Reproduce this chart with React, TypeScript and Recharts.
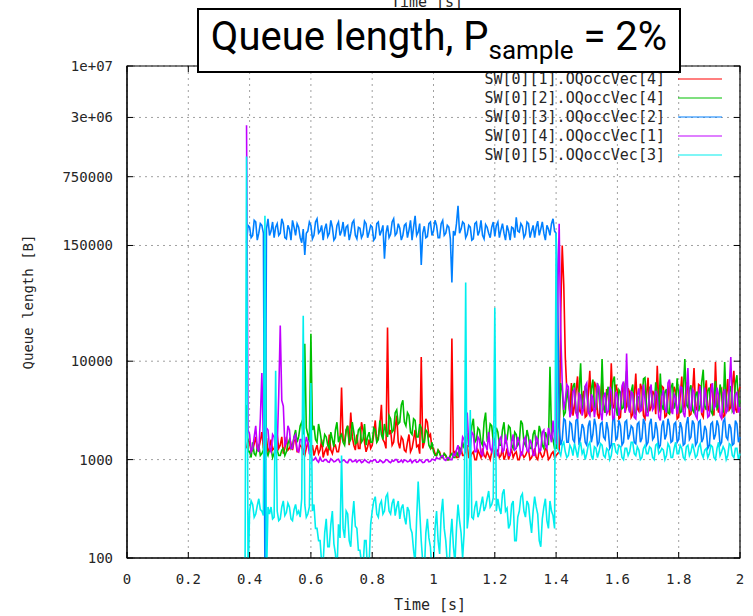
import { LineChart, Line, XAxis, YAxis, CartesianGrid, ReferenceArea } from "recharts";

// sample times [s]
const TIME = [
  0.385, 0.39, 0.395,
  0.4, 0.405, 0.41, 0.415, 0.42, 0.425, 0.43, 0.435, 0.44, 0.445,
  0.45, 0.455, 0.46, 0.465, 0.47, 0.475, 0.48, 0.485, 0.49, 0.495,
  0.5, 0.505, 0.51, 0.515, 0.52, 0.525, 0.53, 0.535, 0.54, 0.545,
  0.55, 0.555, 0.56, 0.565, 0.57, 0.575, 0.58, 0.585, 0.59, 0.595,
  0.6, 0.605, 0.61, 0.615, 0.62, 0.625, 0.63, 0.635, 0.64, 0.645,
  0.65, 0.655, 0.66, 0.665, 0.67, 0.675, 0.68, 0.685, 0.69, 0.695,
  0.7, 0.705, 0.71, 0.715, 0.72, 0.725, 0.73, 0.735, 0.74, 0.745,
  0.75, 0.755, 0.76, 0.765, 0.77, 0.775, 0.78, 0.785, 0.79, 0.795,
  0.8, 0.805, 0.81, 0.815, 0.82, 0.825, 0.83, 0.835, 0.84, 0.845,
  0.85, 0.855, 0.86, 0.865, 0.87, 0.875, 0.88, 0.885, 0.89, 0.895,
  0.9, 0.905, 0.91, 0.915, 0.92, 0.925, 0.93, 0.935, 0.94, 0.945,
  0.95, 0.955, 0.96, 0.965, 0.97, 0.975, 0.98, 0.985, 0.99, 0.995,
  1.0, 1.005, 1.01, 1.015, 1.02, 1.025, 1.03, 1.035, 1.04, 1.045,
  1.05, 1.055, 1.06, 1.065, 1.07, 1.075, 1.08, 1.085, 1.09, 1.095,
  1.1, 1.105, 1.11, 1.115, 1.12, 1.125, 1.13, 1.135, 1.14, 1.145,
  1.15, 1.155, 1.16, 1.165, 1.17, 1.175, 1.18, 1.185, 1.19, 1.195,
  1.2, 1.205, 1.21, 1.215, 1.22, 1.225, 1.23, 1.235, 1.24, 1.245,
  1.25, 1.255, 1.26, 1.265, 1.27, 1.275, 1.28, 1.285, 1.29, 1.295,
  1.3, 1.305, 1.31, 1.315, 1.32, 1.325, 1.33, 1.335, 1.34, 1.345,
  1.35, 1.355, 1.36, 1.365, 1.37, 1.375, 1.38, 1.385, 1.39, 1.395,
  1.4, 1.405, 1.41, 1.415, 1.42, 1.425, 1.43, 1.435, 1.44, 1.445,
  1.45, 1.455, 1.46, 1.465, 1.47, 1.475, 1.48, 1.485, 1.49, 1.495,
  1.5, 1.505, 1.51, 1.515, 1.52, 1.525, 1.53, 1.535, 1.54, 1.545,
  1.55, 1.555, 1.56, 1.565, 1.57, 1.575, 1.58, 1.585, 1.59, 1.595,
  1.6, 1.605, 1.61, 1.615, 1.62, 1.625, 1.63, 1.635, 1.64, 1.645,
  1.65, 1.655, 1.66, 1.665, 1.67, 1.675, 1.68, 1.685, 1.69, 1.695,
  1.7, 1.705, 1.71, 1.715, 1.72, 1.725, 1.73, 1.735, 1.74, 1.745,
  1.75, 1.755, 1.76, 1.765, 1.77, 1.775, 1.78, 1.785, 1.79, 1.795,
  1.8, 1.805, 1.81, 1.815, 1.82, 1.825, 1.83, 1.835, 1.84, 1.845,
  1.85, 1.855, 1.86, 1.865, 1.87, 1.875, 1.88, 1.885, 1.89, 1.895,
  1.9, 1.905, 1.91, 1.915, 1.92, 1.925, 1.93, 1.935, 1.94, 1.945,
  1.95, 1.955, 1.96, 1.965, 1.97, 1.975, 1.98, 1.985, 1.99, 1.995,
  2.0,
];

// SW[0][1].OQoccVec[4]
const SW1 = [
  null, 1300, 1600,
  1500, 1200, 1250, 1450, 1700, 1250, 1300, 1550, 1900, 1350,
  1400, 1650, 1200, 1300, 1600, 1250, 1300, 1500, 1800, 1300,
  1400, 1700, 1150, 1300, 1700, 1250, 1300, 1450, 1250, 1550,
  1600, 1200, 1200, 1400, 1350, 1150, 1100, 1300, 1500, 1250,
  1200, 1400, 1100, 1250, 1400, 1150, 1250, 1600, 1050, 1200,
  1300, 1100, 1800, 1250, 1150, 1350, 1400, 1200, 1200, 1500,
  5400, 1600, 1500, 2000, 2200, 1400, 3000, 1700, 1400, 1250,
  1800, 1300, 1300, 2400, 2000, 1500, 1200, 1350, 1600, 1300,
  1400, 1800, 2500, 1500, 1700, 2200, 3600, 1600, 1500, 1300,
  22000, 1800, 2000, 1400, 1500, 2100, 2800, 1500, 1300, 1700,
  1600, 1250, 1200, 1500, 1800, 1200, 1300, 1600, 2000, 1350,
  1400, 1150, 11000, 1300, 1500, 2600, 2400, 1700, 1800, 1300,
  1300, 1150, 1100, 1250, 1200, 1050, 1050, 1150, 1100, 1000,
  1000, 1100, 17000, 1150, 1200, 1050, 1050, 1200, 1300, 1100,
  1100, 1250, 1400, 1050, 1050, 1150, 1200, 1000, 1000, 1250,
  1150, 1050, 1300, 1100, 1050, 1200, 1100, 1000, 1200, 1350,
  1050, 1200, 1250, 1050, 1100, 1300, 1000, 1100, 1300, 1000,
  1150, 1250, 1050, 1150, 1200, 1000, 1000, 1200, 1150, 1050,
  1100, 1200, 1250, 1000, 1050, 1150, 1300, 1050, 1000, 1250,
  1150, 1050, 1100, 1300, 1250, 1000, 1050, 1150, 1200, 1050,
  1100, 1150, 1200, 30000, 150000, 60000, 11000, 5000, 4500, 3000,
  6000, 2800, 3500, 5000, 7000, 3200, 3000, 4200, 5000, 2700,
  2800, 4600, 8000, 3100, 3200, 6200, 5500, 2900, 2600, 4400,
  6500, 3300, 3000, 5200, 4500, 2800, 9500, 3600, 3300, 5800,
  5000, 2600, 2700, 4800, 6000, 3000, 3500, 5300, 4800, 2700,
  2900, 4400, 7500, 3300, 3100, 5900, 5200, 2800, 2600, 4500,
  6800, 3100, 3400, 5000, 4600, 2900, 9000, 3800, 3000, 5600,
  5400, 2700, 2800, 4300, 6200, 3100, 3300, 5500, 4900, 2600,
  2700, 4500, 7000, 3200, 3600, 6100, 5100, 2800, 2900, 4700,
  8500, 3400, 3200, 5800, 5600, 2900, 2700, 4600, 6400, 3100,
  3500, 5900, 4700, 2800, 9800, 3600, 3000, 5100, 5300, 2700,
  2800, 4400, 6600, 3200, 3400, 5700, 8000, 3300, 3000, 4900,
  5500,
];

// SW[0][2].OQoccVec[4]
const SW2 = [
  null, 3600, 1200,
  1200, 1050, 1500, 1150, 1100, 1300, 1400, 1100, 1150, 1250,
  39000, 1200, 1100, 1250, 1300, 1050, 1150, 1350, 1250, 1100,
  1100, 1250, 1300, 1100, 1200, 1450, 1600, 1300, 1400, 1700,
  2000, 1500, 1700, 2200, 2400, 1800, 15000, 2100, 1800, 1500,
  19000, 2000, 2200, 1600, 1500, 2300, 1900, 1500, 1400, 1800,
  1700, 1400, 1300, 1900, 1600, 1350, 2000, 2400, 1500, 1700,
  1800, 1500, 1400, 2000, 2200, 1500, 1600, 2400, 1900, 1450,
  1500, 2000, 2100, 1500, 1600, 2300, 1400, 1700, 1900, 1500,
  1500, 2100, 2000, 1500, 1600, 2500, 1800, 1600, 2300, 1900,
  1700, 2800, 2600, 1900, 2000, 3000, 3200, 2300, 2400, 3600,
  4000, 2400, 2200, 3000, 2800, 1900, 1800, 2600, 2500, 1700,
  1700, 2300, 2100, 1500, 1500, 2000, 1900, 1400, 1300, 1500,
  1200, 1100, 1100, 1250, 1150, 1050, 1050, 1150, 1100, 1000,
  1000, 1100, 1150, 1050, 1050, 1200, 1100, 1300, 1200, 1500,
  1300, 1700, 1800, 1400, 1500, 2200, 2600, 1500, 1600, 2100,
  2000, 1500, 1400, 2400, 3000, 1600, 1700, 2300, 2200, 1500,
  1500, 2100, 1900, 1400, 1400, 2000, 2400, 1500, 1600, 2200,
  2100, 1400, 1300, 1900, 1800, 1400, 1500, 2500, 2300, 1500,
  1400, 2000, 1700, 1300, 1300, 1800, 2000, 1400, 1500, 2200,
  1900, 1400, 1300, 1900, 1700, 1400, 8800, 1800, 1600, 1300,
  1300, 2000, 2500, 6000, 5000, 2800, 3000, 5200, 4000, 3000,
  3200, 5500, 6000, 3000, 2800, 4800, 9500, 3300, 3500, 5600,
  5000, 3100, 2900, 5200, 6500, 3400, 3300, 6000, 4500, 2900,
  10500, 3600, 3000, 4700, 5500, 3200, 3600, 6200, 7000, 3400,
  2800, 5100, 4800, 3300, 3400, 5500, 8000, 3500, 3100, 4900,
  5800, 3000, 2900, 4400, 4300, 3100, 3700, 6600, 6800, 3300,
  3000, 5300, 5000, 3400, 3500, 6100, 4600, 3100, 7500, 3600,
  3200, 4800, 5200, 3000, 2900, 5400, 6000, 3300, 3800, 6700,
  4400, 3000, 3100, 5000, 10500, 3600, 3400, 5200, 5700, 3200,
  3000, 4500, 4900, 3100, 3600, 6100, 8200, 3500, 3200, 5000,
  5400, 3100, 2900, 4600, 6300, 3300, 3500, 5800, 4700, 3000,
  9800, 3700, 3100, 4900, 5600, 3100, 3300, 6000, 7200, 3400,
  4000,
];

// SW[0][3].OQoccVec[2]
const SW3 = [
  null, 160000, 240000,
  230000, 180000, 190000, 270000, 260000, 170000, 200000, 250000, 240000, 200000,
  60, 220000, 280000, 190000, 210000, 260000, 180000, 230000, 250000, 190000,
  200000, 280000, 250000, 180000, 175000, 240000, 220000, 170000, 270000, 230000,
  190000, 250000, 230000, 180000, 160000, 220000, 120000, 200000, 210000, 260000,
  240000, 175000, 190000, 260000, 280000, 200000, 210000, 240000, 170000, 220000,
  250000, 185000, 200000, 270000, 230000, 170000, 180000, 240000, 260000, 190000,
  210000, 260000, 185000, 230000, 240000, 170000, 200000, 255000, 270000, 190000,
  175000, 230000, 225000, 180000, 195000, 265000, 250000, 180000, 205000, 240000,
  230000, 170000, 180000, 250000, 260000, 190000, 210000, 240000, 110000, 200000,
  240000, 180000, 195000, 260000, 280000, 190000, 200000, 250000, 225000, 170000,
  190000, 240000, 250000, 180000, 215000, 270000, 170000, 230000, 300000, 190000,
  205000, 250000, 95000, 200000, 235000, 180000, 185000, 250000, 260000, 190000,
  210000, 270000, 240000, 180000, 180000, 250000, 270000, 190000, 200000, 240000,
  230000, 175000, 63000, 210000, 190000, 250000, 380000, 200000, 220000, 260000,
  250000, 180000, 195000, 240000, 230000, 170000, 175000, 250000, 260000, 190000,
  210000, 270000, 190000, 175000, 245000, 230000, 200000, 180000, 230000, 260000,
  185000, 240000, 260000, 180000, 215000, 250000, 200000, 170000, 240000, 210000,
  170000, 230000, 225000, 180000, 290000, 210000, 205000, 250000, 235000, 180000,
  195000, 260000, 250000, 180000, 210000, 240000, 180000, 230000, 265000, 190000,
  220000, 260000, 200000, 170000, 240000, 220000, 190000, 250000, 280000, 210000,
  200000, 60000, 2200, 1400, 1600, 2600, 2500, 1500, 1500, 2400,
  2300, 1600, 1500, 2500, 2600, 1400, 1700, 2300, 2100, 1500,
  1400, 2200, 2500, 1500, 1800, 2600, 2200, 1400, 1500, 2300,
  2400, 1700, 1600, 2400, 2000, 1300, 1400, 2500, 2700, 1600,
  1700, 2500, 2200, 1400, 1500, 2400, 2500, 1600, 1800, 2200,
  2100, 1500, 1450, 2300, 2400, 1500, 1650, 2600, 2300, 1400,
  1500, 2300, 2600, 1600, 1700, 2400, 2000, 1300, 1400, 2200,
  2500, 1600, 1800, 2600, 2200, 1500, 1550, 2300, 2400, 1500,
  1600, 2400, 2100, 1400, 1450, 2300, 2700, 1600, 1700, 2500,
  2300, 1400, 1500, 2400, 2500, 1500, 1650, 2200, 2000, 1300,
  1400, 2300, 2400, 1600, 1800, 2500, 2200, 1400, 1500, 2400,
  2600, 1700, 1600, 2300, 2100, 1400, 1450, 2500, 2300, 1500,
  1700,
];

// SW[0][4].OQoccVec[1]
const SW4 = [
  null, 2500000, 2000,
  1800, 1200, 1300, 1700, 2200, 1300, 1200, 2600, 7600, 1500,
  1400, 2100, 2000, 1300, 1200, 1800, 1700, 1200, 1300, 4500,
  23000, 4000, 3500, 1400, 1500, 2200, 2000, 1300, 1300, 1700,
  1800, 1250, 1200, 1600, 1600, 1200, 1300, 1700, 1500, 1150,
  1100, 980, 1000, 1050, 980, 940, 1050, 970, 960, 1000,
  1000, 950, 940, 1020, 990, 950, 960, 1000, 1010, 940,
  950, 990, 980, 940, 930, 1000, 1000, 950, 960, 990,
  940, 980, 990, 930, 950, 1000, 970, 940, 930, 980,
  960, 990, 1000, 940, 940, 980, 970, 930, 950, 1000,
  990, 950, 930, 980, 960, 1000, 1000, 940, 950, 990,
  940, 990, 980, 950, 960, 1000, 930, 970, 990, 940,
  950, 1000, 970, 930, 940, 990, 1000, 950, 960, 1010,
  1000, 980, 1050, 1020, 1020, 1080, 1100, 1000, 980, 1050,
  1050, 1000, 1000, 1150, 1100, 1250, 1400, 1100, 1200, 1700,
  1600, 1200, 3000, 1400, 1300, 1900, 1800, 1200, 1200, 1700,
  1600, 1150, 1100, 1500, 1400, 1250, 1900, 1300, 1200, 1600,
  1500, 1150, 1100, 1600, 1700, 1200, 1250, 1800, 1400, 1100,
  1100, 1500, 1800, 1250, 1300, 1700, 1500, 1100, 1150, 1600,
  1700, 1250, 1200, 1600, 1450, 1100, 1100, 1700, 1600, 1200,
  1250, 1900, 2000, 1400, 1300, 2100, 1800, 1500, 2500, 1600,
  1500, 40000, 250000, 20000, 6000, 3200, 4000, 5800, 5500, 2700,
  3000, 4900, 5200, 3000, 2600, 4700, 4500, 2800, 3300, 5600,
  6000, 3000, 2800, 4600, 4200, 2700, 3600, 5800, 5500, 3000,
  2500, 4300, 4800, 2900, 3100, 5500, 5000, 2600, 2700, 4900,
  4400, 2800, 3500, 5600, 6200, 3000, 12000, 3600, 3000, 4900,
  4700, 2700, 2600, 4500, 5300, 3100, 3200, 5800, 4100, 2800,
  2800, 4700, 5800, 3200, 3400, 5000, 4600, 2700, 2500, 4400,
  5100, 3300, 3000, 6000, 6500, 3200, 2900, 4600, 4300, 2900,
  3600, 5500, 5400, 3000, 2700, 4800, 8500, 3400, 3100, 5200,
  4900, 2800, 2600, 4600, 5600, 3000, 3300, 5400, 4200, 2700,
  2800, 5000, 6000, 3300, 3500, 5400, 4500, 2800, 2600, 4700,
  5200, 3000, 3200, 5600, 11000, 3400, 2900, 4600, 4800, 3000,
  3400,
];

// SW[0][5].OQoccVec[3]
const SW5 = [
  50, 1200000, 60,
  300, 380, 350, 260, 280, 340, 400, 310, 300, 270,
  300000, 60, 330, 280, 330, 250, 260, 8000, 300, 240,
  250, 330, 380, 270, 290, 360, 330, 250, 240, 310,
  350, 280, 300, 260, 400, 29000, 350, 260, 280, 330,
  6000, 300, 350, 200, 200, 150, 150, 90, 90, 180,
  250, 130, 130, 220, 300, 140, 110, 70, 220, 160,
  1100, 200, 160, 300, 280, 150, 130, 250, 380, 210,
  200, 120, 120, 90, 80, 150, 150, 70, 90, 220,
  300, 380, 420, 280, 260, 350, 380, 280, 300, 420,
  450, 300, 280, 360, 400, 270, 330, 380, 250, 320,
  350, 260, 220, 330, 300, 200, 180, 120, 90, 250,
  600, 300, 150, 90, 70, 180, 250, 160, 130, 70,
  80, 200, 300, 150, 110, 280, 400, 200, 150, 90,
  70, 160, 250, 130, 90, 200, 350, 240, 180, 100,
  180, 63000, 200, 280, 3200, 260, 250, 330, 380, 260,
  290, 350, 420, 300, 330, 400, 480, 330, 350, 410,
  35000, 300, 400, 320, 280, 450, 500, 300, 320, 200,
  220, 350, 380, 150, 150, 260, 300, 420, 450, 300,
  260, 380, 350, 240, 180, 300, 420, 330, 280, 150,
  130, 250, 330, 400, 240, 200, 380, 300, 270, 200,
  200000, 1300, 1200, 1100, 1400, 1500, 1200, 1050, 1100, 1400,
  1300, 1100, 1450, 1250, 1050, 1350, 1500, 1150, 1250, 1000,
  1150, 1400, 1500, 1100, 1000, 1350, 1300, 1050, 1200, 1450,
  1400, 1100, 1050, 1300, 1250, 1000, 1100, 1450, 1450, 1200,
  1150, 1400, 1350, 1050, 1000, 1300, 1300, 1100, 1200, 1500,
  1500, 1150, 1100, 1350, 1250, 1000, 1050, 1300, 1400, 1150,
  1150, 1350, 1300, 1050, 1000, 1400, 1450, 1150, 1200, 1300,
  1250, 1000, 1100, 1450, 1350, 1050, 1050, 1300, 1500, 1150,
  1150, 1400, 1300, 1050, 1000, 1350, 1400, 1100, 1200, 1450,
  1250, 1050, 1100, 1350, 1450, 1150, 1050, 1250, 1300, 1050,
  1150, 1400, 1350, 1050, 1000, 1300, 1500, 1100, 1200, 1350,
  1250, 1000, 1100, 1450, 1400, 1100, 1050, 1300, 1300, 1000,
  1150,
];

const SERIES = [
  { key: "sw1", name: "SW[0][1].OQoccVec[4]", color: "#ff0000", values: SW1 },
  { key: "sw2", name: "SW[0][2].OQoccVec[4]", color: "#00c000", values: SW2 },
  { key: "sw3", name: "SW[0][3].OQoccVec[2]", color: "#0080ff", values: SW3 },
  { key: "sw4", name: "SW[0][4].OQoccVec[1]", color: "#c000ff", values: SW4 },
  { key: "sw5", name: "SW[0][5].OQoccVec[3]", color: "#00eeee", values: SW5 },
];

const X_TICKS = [0, 0.2, 0.4, 0.6, 0.8, 1, 1.2, 1.4, 1.6, 1.8, 2];
const Y_TICKS = [100, 1000, 10000, 150000, 750000, 3000000, 10000000];
const Y_LABELS = ["100", "1000", "10000", "150000", "750000", "3e+06", "1e+07"];

const data = TIME.map((t, i) => {
  const row: Record<string, number | null> = { t };
  SERIES.forEach((s) => (row[s.key] = s.values[i] ?? null));
  return row;
});

// plot box in page pixels
const W = 753;
const H = 616;
const PLOT_L = 127;
const PLOT_R = 740;
const PLOT_T = 66;
const PLOT_B = 558;
const PLOT_W = PLOT_R - PLOT_L;
const PLOT_H = PLOT_B - PLOT_T;
const Y_AXIS_W = 60;
const X_AXIS_H = 30;
const TICK_LEN = 6;

const MONO = "'DejaVu Sans Mono', 'Liberation Mono', monospace";
const TEXT = "#262626";

function YTick({ x, y, payload }: any) {
  const ax = x + 14;
  const label = Y_LABELS[Y_TICKS.indexOf(payload.value)] ?? String(payload.value);
  return (
    <g>
      <line x1={ax} x2={ax + TICK_LEN} y1={y} y2={y} stroke="#000" />
      <line x1={ax + PLOT_W} x2={ax + PLOT_W - TICK_LEN} y1={y} y2={y} stroke="#000" />
      <text x={x} y={y + 5} textAnchor="end" fontFamily={MONO} fontSize={14} fill={TEXT}>
        {label}
      </text>
    </g>
  );
}

function XTick({ x, y, payload }: any) {
  return (
    <g>
      <line x1={x} x2={x} y1={y} y2={y - TICK_LEN} stroke="#000" />
      <line x1={x} x2={x} y1={y - PLOT_H} y2={y - PLOT_H + TICK_LEN} stroke="#000" />
      <text x={x} y={y + 26} textAnchor="middle" fontFamily={MONO} fontSize={14} fill={TEXT}>
        {String(payload.value)}
      </text>
    </g>
  );
}

export default function App() {
  return (
    <div style={{ position: "absolute", left: 0, top: 0, width: W, height: H, background: "#fff", overflow: "hidden" }}>
      <LineChart
        width={W}
        height={H}
        data={data}
        margin={{ top: PLOT_T, right: W - PLOT_R, left: PLOT_L - Y_AXIS_W, bottom: H - PLOT_B - X_AXIS_H }}
      >
        <CartesianGrid stroke="#a0a0a0" strokeDasharray="2 4" />
        <XAxis
          dataKey="t"
          type="number"
          domain={[0, 2]}
          ticks={X_TICKS}
          interval={0}
          height={X_AXIS_H}
          tickSize={0}
          tickMargin={0}
          tickLine={false}
          axisLine={{ stroke: "#000" }}
          tick={<XTick />}
        />
        <YAxis
          type="number"
          scale="log"
          domain={[100, 10000000]}
          allowDataOverflow
          ticks={Y_TICKS}
          interval={0}
          width={Y_AXIS_W}
          tickSize={0}
          tickMargin={14}
          tickLine={false}
          axisLine={{ stroke: "#000" }}
          tick={<YTick />}
        />
        {SERIES.map((s) => (
          <Line
            key={s.key}
            type="linear"
            dataKey={s.key}
            stroke={s.color}
            strokeWidth={1.6}
            strokeLinejoin="miter"
            dot={false}
            activeDot={false}
            isAnimationActive={false}
          />
        ))}
        <ReferenceArea x1={0} x2={2} y1={100} y2={10000000} fill="none" stroke="#000" strokeWidth={1.2} />
      </LineChart>

      <svg width={W} height={H} style={{ position: "absolute", left: 0, top: 0, pointerEvents: "none" }}>
        <text x={427} y={7} textAnchor="middle" fontFamily={MONO} fontSize={15} fill={TEXT}>
          Time [s]
        </text>
        <text x={430} y={610} textAnchor="middle" fontFamily={MONO} fontSize={15} fill={TEXT}>
          Time [s]
        </text>
        <text
          x={33}
          y={302}
          transform="rotate(-90 33 302)"
          textAnchor="middle"
          fontFamily={MONO}
          fontSize={14}
          fill={TEXT}
        >
          Queue length [B]
        </text>
        {SERIES.map((s, i) => {
          const cy = 79 + i * 19;
          return (
            <g key={s.key}>
              <text x={665} y={cy + 5} textAnchor="end" fontFamily={MONO} fontSize={15} fill={TEXT}>
                {s.name}
              </text>
              <line x1={678} x2={722} y1={cy} y2={cy} stroke={s.color} strokeWidth={1.2} />
            </g>
          );
        })}
      </svg>

      <div
        style={{
          position: "absolute",
          left: 197,
          top: 8,
          width: 484,
          height: 65,
          boxSizing: "border-box",
          border: "2px solid #000",
          background: "#fff",
          display: "flex",
          alignItems: "center",
          justifyContent: "center",
          fontFamily: "Roboto, 'Open Sans', sans-serif",
          fontSize: 40,
          color: "#000",
          whiteSpace: "nowrap",
          lineHeight: 1,
        }}
      >
        <span>
          Queue length, P
          <sub style={{ fontSize: 26, verticalAlign: "-0.35em" }}>sample</sub>
          {" = 2%"}
        </span>
      </div>
    </div>
  );
}
